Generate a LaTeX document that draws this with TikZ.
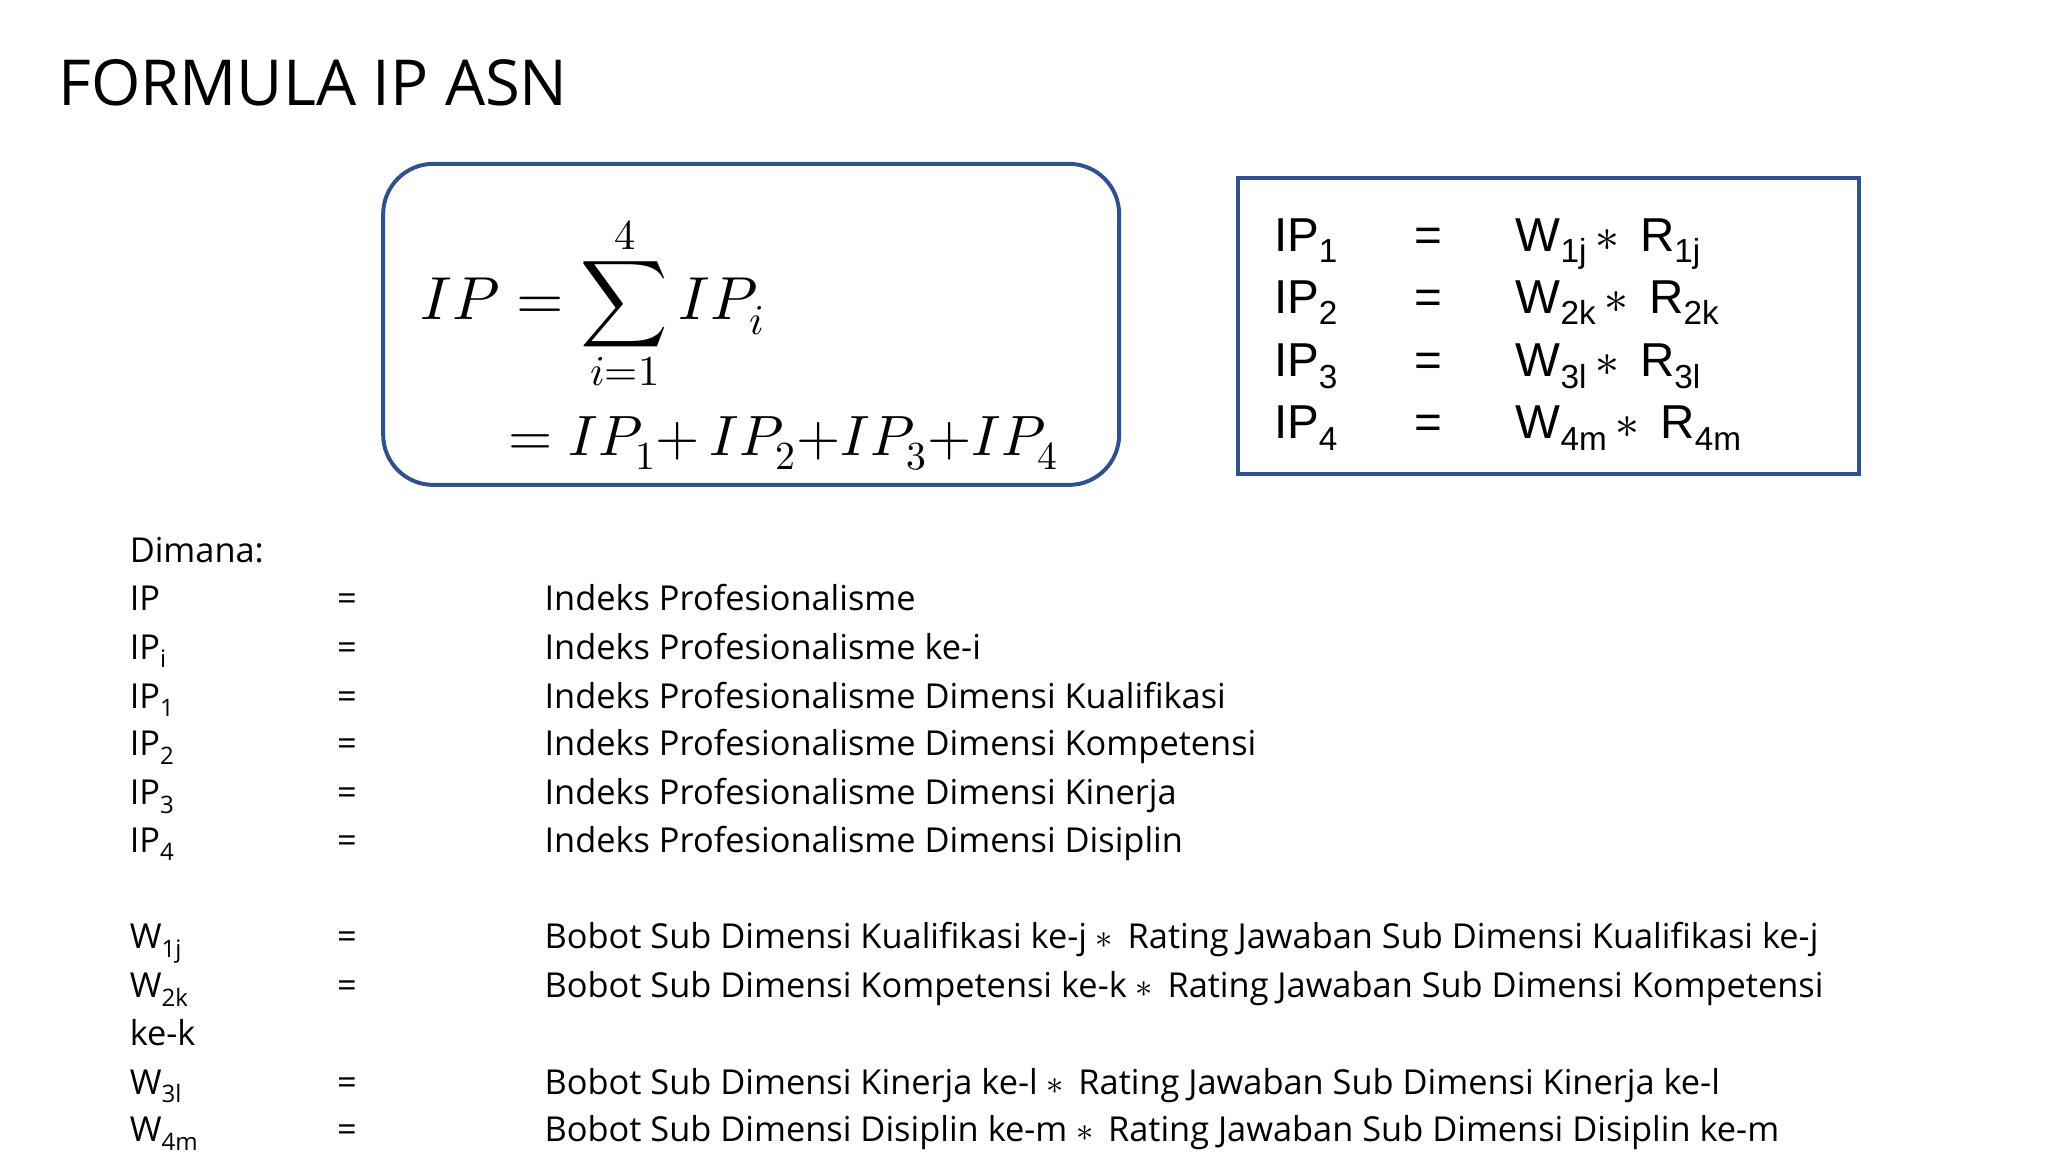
\documentclass[tikz,border=0pt]{standalone}
\usepackage{unicode-math}
\setmainfont{Open Sans}
\setmathfont{Latin Modern Math}
\newfontfamily\arialf{Liberation Sans}
\definecolor{bx}{HTML}{2F528F}
\begin{document}
\begin{tikzpicture}[x=1pt,y=-1pt,
  txt/.style={anchor=base west,inner sep=0pt,font=\fontsize{26}{30}\selectfont},
  rt/.style={anchor=base west,inner sep=0pt,font=\arialf\fontsize{36}{40}\selectfont},
  fm/.style={anchor=base west,inner sep=0pt,font=\fontsize{46}{55}\selectfont}]
\useasboundingbox (0,0) rectangle (1550,872);
\node[anchor=base west,inner sep=0pt,font=\fontsize{48}{55}\selectfont] (title) at (44,80) {FORMULA IP ASN};
\draw[bx,line width=3pt,rounded corners=38pt] (290,124) rectangle (847,367);
\node[fm] (f1) at (318,242) {$IP = \displaystyle\sum_{i=1}^{4} IP_i$};
\node[fm,font=\fontsize{43}{50}\selectfont] (f2) at (385,345) {$= IP_1{+}\, IP_2{+}IP_3{+}IP_4$};
\draw[bx,line width=3pt] (937,135) rectangle (1407,359);
\foreach \i/\y/\a/\b in {1/190/1j/1j,2/237/2k/2k,3/285/3l/3l,4/332/4m/4m}{
  \node[rt] (ip\i) at (964,\y) {IP\textsubscript{\i}};
  \node[rt] (eq\i) at (1070,\y) {=};
  \node[rt] (w\i) at (1147,\y) {W\textsubscript{\a}\,$\ast$\, R\textsubscript{\b}};
}
\node[txt] (dim) at (98,426) {Dimana:};
\foreach \n/\y/\l/\d in {
 a/462/IP/Indeks Profesionalisme,
 b/499/IP\textsubscript{i}/Indeks Profesionalisme ke-i,
 c/536/IP\textsubscript{1}/Indeks Profesionalisme Dimensi Kualifikasi,
 d/572/IP\textsubscript{2}/Indeks Profesionalisme Dimensi Kompetensi,
 e/609/IP\textsubscript{3}/Indeks Profesionalisme Dimensi Kinerja,
 f/645/IP\textsubscript{4}/Indeks Profesionalisme Dimensi Disiplin,
 g/718/W\textsubscript{1j}/{Bobot Sub Dimensi Kualifikasi ke-j $\ast$\, Rating Jawaban Sub Dimensi Kualifikasi ke-j},
 h/755/W\textsubscript{2k}/{Bobot Sub Dimensi Kompetensi ke-k $\ast$\, Rating Jawaban Sub Dimensi Kompetensi},
 i/828/W\textsubscript{3l}/{Bobot Sub Dimensi Kinerja ke-l $\ast$\, Rating Jawaban Sub Dimensi Kinerja ke-l},
 j/864/W\textsubscript{4m}/{Bobot Sub Dimensi Disiplin ke-m $\ast$\, Rating Jawaban Sub Dimensi Disiplin ke-m}}{
  \node[txt] (l\n) at (98,\y) {\l};
  \node[txt] (e\n) at (255,\y) {=};
  \node[txt] (d\n) at (412,\y) {\d};
}
\node[txt] (kek) at (98,791) {ke-k};
\end{tikzpicture}
\end{document}
